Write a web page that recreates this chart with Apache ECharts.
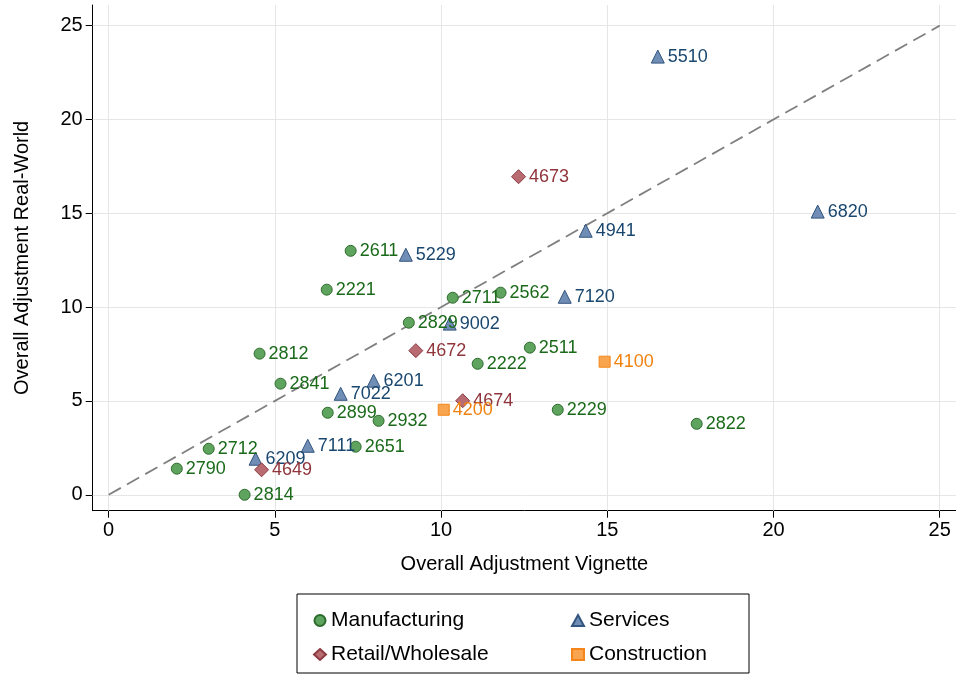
<!DOCTYPE html><html><head><meta charset="utf-8"><script src="https://cdn.jsdelivr.net/npm/echarts@6/dist/echarts.min.js"></script></head><body style="margin:0"><div id="c" style="width:956px;height:675px"></div><script>
const manufacturing=[[7.28,13.0,'2611'],[6.56,10.93,'2221'],[10.35,10.5,'2711'],[11.79,10.77,'2562'],[9.03,9.17,'2829'],[4.54,7.52,'2812'],[12.67,7.84,'2511'],[11.1,6.98,'2222'],[5.17,5.92,'2841'],[6.59,4.37,'2899'],[8.12,3.94,'2932'],[13.51,4.53,'2229'],[17.69,3.78,'2822'],[3.01,2.45,'2712'],[7.43,2.56,'2651'],[2.05,1.39,'2790'],[4.09,0,'2814']];
const services=[[16.52,23.35,'5510'],[21.33,15.09,'6820'],[14.35,14.07,'4941'],[8.94,12.79,'5229'],[13.72,10.55,'7120'],[10.26,9.12,'9002'],[7.97,6.08,'6201'],[6.98,5.38,'7022'],[5.99,2.61,'7111'],[4.42,1.92,'6209']];
const retail=[[12.33,16.95,'4673'],[9.24,7.68,'4672'],[10.65,5.01,'4674'],[4.6,1.33,'4649']];
const construction=[[14.92,7.09,'4100'],[10.08,4.53,'4200']];
const ticks=[0,5,10,15,20,25];
const diag=[[0,0],[25,25]];
const F='Arial, Liberation Sans, sans-serif';
function S(name,data,sym,size,fill,border,lab){return {name,type:'scatter',data,symbol:sym,symbolSize:size,itemStyle:{color:fill,borderColor:border,borderWidth:1,opacity:1},z:3,
label:{show:true,position:'right',distance:3,formatter:p=>p.data[2],color:lab,fontSize:18,fontFamily:F}};}
const ax=(name,gap,min,max)=>({type:'value',min,max,name,nameLocation:'middle',nameGap:gap,nameTextStyle:{fontSize:20,color:'#000',fontFamily:F},
axisLine:{show:true,onZero:false,lineStyle:{color:'#000'}},axisTick:{show:true,length:7,customValues:ticks,lineStyle:{color:'#000'}},
axisLabel:{fontSize:20,color:'#000',fontFamily:F,customValues:ticks,margin:10},splitLine:{show:false}});
const lt={fontSize:21,color:'#000',fontFamily:F};
const grid=[...ticks.map(t=>({xAxis:t})),...ticks.map(t=>({yAxis:t}))];
echarts.init(document.getElementById('c')).setOption({animation:false,
grid:{left:92.7,right:0,top:5,bottom:164.3},
xAxis:ax('Overall Adjustment Vignette',44,-0.48,25.49),yAxis:ax('Overall Adjustment Real-World',60,-0.85,26.1),
legend:[{data:['Manufacturing','Retail/Wholesale'],orient:'vertical',left:308,top:605,itemGap:13,textStyle:lt,itemWidth:12,itemHeight:11},
{data:['Services','Construction'],orient:'vertical',left:566,top:605,itemGap:13,textStyle:lt,itemWidth:12,itemHeight:11}],
graphic:[{type:'rect',shape:{x:297,y:594,width:452,height:79},style:{fill:'none',stroke:'#000',lineWidth:1}}],
series:[{type:'line',data:diag,symbol:'none',silent:true,lineStyle:{color:'#808080',type:[14,7],width:1.8},z:2,
markLine:{silent:true,symbol:'none',label:{show:false},lineStyle:{color:'#e6e6e6',type:'solid',width:1},data:grid,z:1}},
S('Manufacturing',manufacturing,'circle',11,'#5ea35e','#2d6b2d','#1a6a1a'),
S('Services',services,'triangle',13,'#6f8db5','#33557f','#1a476f'),
S('Retail/Wholesale',retail,'diamond',14,'#b86c72','#8b3a40','#90353b'),
S('Construction',construction,'rect',11,'#f9a44f','#f58518','#f0820f')]});
</script></body></html>
